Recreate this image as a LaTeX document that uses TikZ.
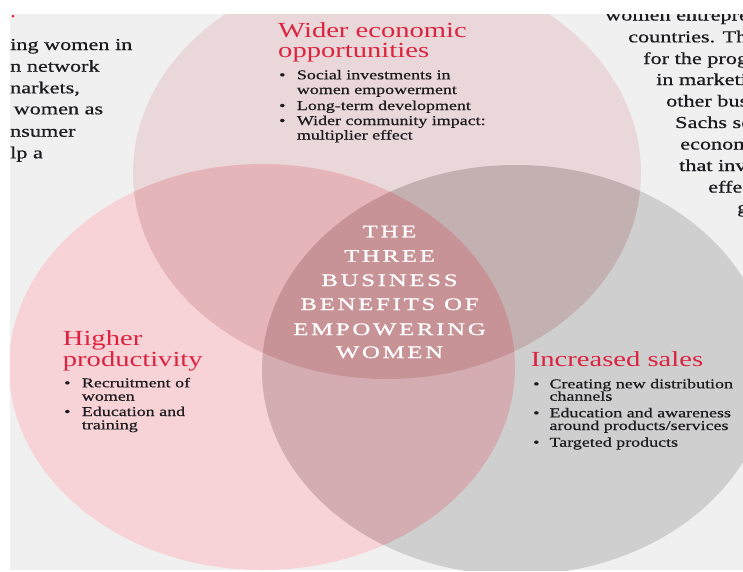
\documentclass[tikz,border=0pt]{standalone}
\usepackage{fontspec}
\setmainfont[FakeStretch=1.33]{Liberation Serif}
\newfontfamily\bodyfont[FakeStretch=1.33,FakeBold=0.6]{Liberation Serif}
\newfontfamily\capsfont[FakeStretch=1.4,LetterSpace=16,FakeBold=1]{Liberation Serif}
\definecolor{bgc}{HTML}{F0F0F0}
\definecolor{cT}{HTML}{E9D7D9}
\definecolor{cL}{HTML}{F7D3D7}
\definecolor{cR}{HTML}{CFCFCF}
\definecolor{cTL}{HTML}{E6B5BA}
\definecolor{cTR}{HTML}{C3B1B2}
\definecolor{cLR}{HTML}{D3ADB1}
\definecolor{cTLR}{HTML}{C79397}
\definecolor{titlec}{HTML}{DC2340}
\definecolor{bodyc}{HTML}{1C1A1E}
\tikzset{
  bodytxt/.style={anchor=base west, inner sep=0pt, text=bodyc, font=\bodyfont\fontsize{13.5}{13.5}\selectfont},
  bul/.style={bodytxt},
  titletxt/.style={anchor=base west, inner sep=0pt, text=titlec, font=\fontsize{21.5}{21.5}\selectfont},
  sidetxt/.style={anchor=base west, inner sep=0pt, text=bodyc, font=\bodyfont\fontsize{16.7}{16.7}\selectfont},
  centertxt/.style={anchor=base, inner sep=0pt, text=white, font=\capsfont\fontsize{17.6}{17.6}\selectfont}
}
\begin{document}
\begin{tikzpicture}[x=1pt,y=-1pt]
\useasboundingbox (0,0) rectangle (743,571);
\fill[white] (0,0) rectangle (743,571);
\begin{scope}
\clip (10,14) rectangle (743,570);
\fill[bgc] (10,14) rectangle (743,570);
% circles
\fill[cT] (387,173) ellipse [x radius=254pt, y radius=206pt];
\fill[cL] (262,367) ellipse [x radius=253pt, y radius=203pt];
\fill[cR] (516,370) ellipse [x radius=254pt, y radius=205pt];
\begin{scope}
  \clip (387,173) ellipse [x radius=254pt, y radius=206pt];
  \fill[cTL] (262,367) ellipse [x radius=253pt, y radius=203pt];
\end{scope}
\begin{scope}
  \clip (387,173) ellipse [x radius=254pt, y radius=206pt];
  \fill[cTR] (516,370) ellipse [x radius=254pt, y radius=205pt];
\end{scope}
\begin{scope}
  \clip (262,367) ellipse [x radius=253pt, y radius=203pt];
  \fill[cLR] (516,370) ellipse [x radius=254pt, y radius=205pt];
\end{scope}
\begin{scope}
  \clip (387,173) ellipse [x radius=254pt, y radius=206pt];
  \clip (262,367) ellipse [x radius=253pt, y radius=203pt];
  \fill[cTLR] (516,370) ellipse [x radius=254pt, y radius=205pt];
\end{scope}
% side fragments (left)
\fill[titlec] (13,16) circle (1.5pt);
\node[sidetxt] (fl1) at (10,50) {ing women in};
\node[sidetxt] (fl2) at (10,71.7) {n network};
\node[sidetxt] (fl3) at (10,93.3) {narkets,};
\node[sidetxt] (fl4) at (13.5,114.3) {women as};
\node[sidetxt] (fl5) at (10,136.7) {nsumer};
\node[sidetxt] (fl6) at (10,158.3) {lp a};
% side fragments (right), cut by the right edge as in the source
\node[sidetxt] (fr1) at (605,20.5) {women entrepre};
\node[sidetxt] (fr2) at (628,42.3) {countries. Th};
\node[sidetxt] (fr3) at (643,64) {for the prog};
\node[sidetxt] (fr4) at (656,85) {in marketi};
\node[sidetxt] (fr5) at (666,106.5) {other bus};
\node[sidetxt] (fr6) at (675,128) {Sachs se};
\node[sidetxt] (fr7) at (680,149.5) {econom};
\node[sidetxt] (fr8) at (679,171) {that inv};
\node[sidetxt] (fr9) at (708,192.5) {effec};
\node[sidetxt] (fr10) at (737,213) {g};
\end{scope}
% Wider economic opportunities
\node[titletxt] (wt1) at (278,37) {Wider economic};
\node[titletxt] (wt2) at (278,57) {opportunities};
\node[bul] (wb1) at (279,79.3) {\textbullet};
\node[bodytxt] (w1) at (296.7,79.3) {Social investments in};
\node[bodytxt] (w2) at (296.7,94) {women empowerment};
\node[bul] (wb2) at (279,110) {\textbullet};
\node[bodytxt] (w3) at (296.7,110) {Long-term development};
\node[bul] (wb3) at (279,125) {\textbullet};
\node[bodytxt] (w4) at (296.7,125) {Wider community impact:};
\node[bodytxt] (w5) at (296.7,139.5) {multiplier effect};
% Higher productivity
\node[titletxt] (ht1) at (62.7,345.7) {Higher};
\node[titletxt] (ht2) at (62.7,366) {productivity};
\node[bul] (hb1) at (64,387.3) {\textbullet};
\node[bodytxt] (h1) at (81.7,387.3) {Recruitment of};
\node[bodytxt] (h2) at (81.7,400.7) {women};
\node[bul] (hb2) at (64,416) {\textbullet};
\node[bodytxt] (h3) at (81.7,416) {Education and};
\node[bodytxt] (h4) at (81.7,429.3) {training};
% Increased sales
\node[titletxt] (st1) at (530.7,366) {Increased sales};
\node[bul] (sb1) at (533,388.3) {\textbullet};
\node[bodytxt] (s1) at (549.3,388.3) {Creating new distribution};
\node[bodytxt] (s2) at (549.3,400.7) {channels};
\node[bul] (sb2) at (533,417.3) {\textbullet};
\node[bodytxt] (s3) at (549.3,417.3) {Education and awareness};
\node[bodytxt] (s4) at (549.3,430) {around products/services};
\node[bul] (sb3) at (533,446.7) {\textbullet};
\node[bodytxt] (s5) at (549.3,446.7) {Targeted products};
% centre
\node[centertxt] (c1) at (389.5,237.3) {THE};
\node[centertxt] (c2) at (389.5,261.7) {THREE};
\node[centertxt] (c3) at (389.5,286) {BUSINESS};
\node[centertxt] (c4) at (389.5,310) {BENEFITS OF};
\node[centertxt] (c5) at (389.5,335) {EMPOWERING};
\node[centertxt] (c6) at (389.5,358) {WOMEN};
\end{tikzpicture}
\end{document}
